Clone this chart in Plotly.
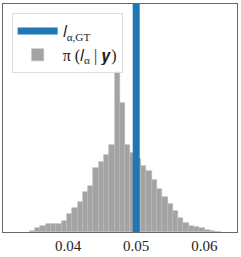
import numpy as np
import plotly.graph_objects as go

# Histogram of posterior samples (heights, arbitrary density units)
bin_start = 0.0344
bin_width = 0.000777
heights = [1, 4, 6.3, 8, 8.6, 8.6, 11.6, 18.6, 24.3, 30.6, 41, 47.3,
           65.3, 71.3, 79, 88.6, 163.6, 132, 88.3, 80.3, 74, 67.8, 62.5, 53,
           43.6, 36, 28.6, 21.3, 14.6, 9.6, 6.3, 5.3, 4, 2, 1, 0.3]
gt_value = 0.05
x_ticks = [0.04, 0.05, 0.06]
x_tick_labels = ["0.04", "0.05", "0.06"]
y_top = 232.6

centers = bin_start + bin_width * (np.arange(len(heights)) + 0.5)

fig = go.Figure()
fig.add_trace(go.Bar(
    x=centers, y=heights, width=bin_width,
    marker=dict(color="#a3a3a3", line=dict(color="#b8b8b8", width=0.6)),
    name="π (𝑙<sub>α</sub> | 𝒚)",
))
fig.add_trace(go.Scatter(
    x=[gt_value, gt_value], y=[0, y_top], mode="lines",
    line=dict(color="#1f77b4", width=7),
    name="𝑙<sub>α,GT</sub>",
))

fig.update_layout(
    width=241, height=257,
    margin=dict(l=3, r=4, t=3, b=22),
    paper_bgcolor="white", plot_bgcolor="white",
    bargap=0,
    font=dict(family="Liberation Serif", size=15, color="#222"),
    legend=dict(
        x=0.037, y=0.96, xanchor="left", yanchor="top",
        bgcolor="rgba(255,255,255,0.85)", bordercolor="#dddddd", borderwidth=1,
        traceorder="reversed", itemwidth=40,
        font=dict(family="Liberation Serif", size=16),
    ),
    xaxis=dict(
        range=[0.03047, 0.06478], tickvals=x_ticks, ticktext=x_tick_labels,
        showgrid=False, zeroline=False, ticks="",
        showline=True, mirror=True, linecolor="#666", linewidth=1,
        tickfont=dict(family="Liberation Serif", size=15, color="#222"),
    ),
    yaxis=dict(
        range=[0, y_top], showticklabels=False, showgrid=False, zeroline=False,
        ticks="", showline=True, mirror=True, linecolor="#666", linewidth=1,
    ),
)

fig.write_html("out.html", config={"displayModeBar": False},
               post_script="document.body.style.margin='0px';")
